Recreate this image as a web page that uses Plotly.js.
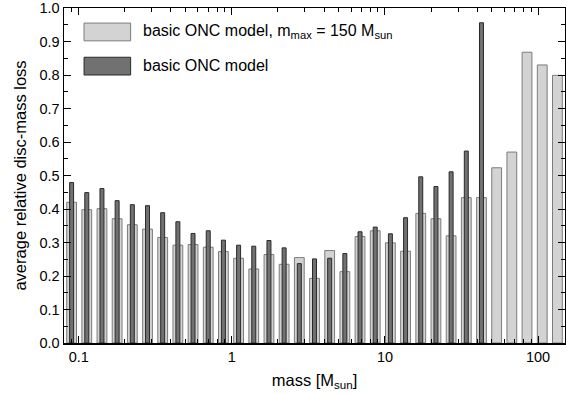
<!DOCTYPE html>
<html>
<head>
<meta charset="utf-8">
<script src="https://cdn.plot.ly/plotly-3.0.1.min.js"></script>
<style>
  body { margin: 0; padding: 0; background: #fff; }
  #chart { width: 566px; height: 394px; }
</style>
</head>
<body>
<div id="chart"></div>
<script>
// mass bin centres [M_sun] (log bins between 0.08 and 150)
var massBins = [0.0897, 0.1127, 0.1416, 0.1779, 0.2236, 0.2810, 0.3530, 0.4436, 0.5573, 0.7004,
                0.8800, 1.1058, 1.3895, 1.7460, 2.1938, 2.7566, 3.4638, 4.3523, 5.4688, 6.8717,
                8.6344, 10.849, 13.632, 17.129, 21.524, 27.045, 33.982, 42.70, 53.65, 67.42,
                84.71, 106.5, 133.8];

// basic ONC model, m_max = 150 M_sun
var lossMmax150 = [0.420, 0.398, 0.401, 0.371, 0.353, 0.340, 0.315, 0.292, 0.294, 0.286,
                   0.273, 0.253, 0.221, 0.264, 0.235, 0.255, 0.193, 0.276, 0.213, 0.318,
                   0.335, 0.299, 0.274, 0.387, 0.371, 0.320, 0.434, 0.434, 0.523, 0.570,
                   0.868, 0.830, 0.799];

// basic ONC model
var lossBasic = [0.479, 0.449, 0.461, 0.425, 0.413, 0.410, 0.389, 0.362, 0.327, 0.335,
                 0.307, 0.292, 0.289, 0.306, 0.284, 0.237, 0.251, 0.253, 0.267, 0.332,
                 0.346, 0.326, 0.374, 0.496, 0.467, 0.511, 0.573, 0.956];

var xTickVals = [0.1, 1, 10, 100];
var xTickText = ["0.1", "1", "10", "100"];
var yTickVals = [0, 0.1, 0.2, 0.3, 0.4, 0.5, 0.6, 0.7, 0.8, 0.9, 1.0];

var legendNames = ["basic ONC model, m<sub>max</sub> = 150 M<sub>sun</sub>", "basic ONC model"];

var lightFill = "#d3d3d3", lightLine = "#7c7c7c";
var darkFill = "#717171", darkLine = "#2a2a2a";

// bar widths given in decades, turned into linear width/offset for the log axis
function logBar(xs, dex) {
  var h = Math.pow(10, dex / 2);
  return {
    width: xs.map(function (c) { return c * (h - 1 / h); }),
    offset: xs.map(function (c) { return c * (1 / h - 1); })
  };
}
var lightGeom = logBar(massBins, 0.064);
var darkX = massBins.slice(0, lossBasic.length);
var darkGeom = logBar(darkX, 0.026);

// minor ticks 2..9 in every decade
var minorVals = [];
for (var e = -2; e <= 2; e++) {
  for (var k = 2; k <= 9; k++) minorVals.push(k * Math.pow(10, e));
}

var data = [
  {
    type: "bar", x: massBins, y: lossMmax150, name: legendNames[0],
    width: lightGeom.width, offset: lightGeom.offset,
    marker: {color: lightFill, line: {color: lightLine, width: 1}},
    hoverinfo: "x+y"
  },
  {
    type: "bar", x: darkX, y: lossBasic, name: legendNames[1],
    width: darkGeom.width, offset: darkGeom.offset,
    marker: {color: darkFill, line: {color: darkLine, width: 1}},
    hoverinfo: "x+y"
  }
];

var fontFam = "Liberation Sans, Arial, sans-serif";

var layout = {
  width: 566, height: 394,
  margin: {l: 64, r: 1, t: 8, b: 51},
  paper_bgcolor: "#fff", plot_bgcolor: "#fff",
  barmode: "overlay",
  showlegend: false,
  font: {family: fontFam, size: 14, color: "#000"},
  xaxis: {
    type: "log",
    range: [Math.log10(0.08), Math.log10(150)],
    tickmode: "array", tickvals: xTickVals, ticktext: xTickText,
    ticks: "inside", ticklen: 7, tickwidth: 1, tickcolor: "#000",
    minor: {tickmode: "array", tickvals: minorVals, ticks: "inside", ticklen: 4, tickwidth: 1, tickcolor: "#000", showgrid: false},
    showline: true, linecolor: "#000", linewidth: 1.5, mirror: "allticks",
    showgrid: false, zeroline: false,
    tickfont: {size: 14.5},
    title: {text: "mass [M<sub>sun</sub>]", font: {size: 16.5}, standoff: 10}
  },
  yaxis: {
    range: [0, 1],
    tickmode: "array", tickvals: yTickVals, tickformat: ".1f",
    ticks: "inside", ticklen: 7, tickwidth: 1, tickcolor: "#000",
    minor: {dtick: 0.05, tick0: 0.05, ticks: "inside", ticklen: 4, tickwidth: 1, tickcolor: "#000", showgrid: false},
    showline: true, linecolor: "#000", linewidth: 1.5, mirror: "allticks",
    showgrid: false, zeroline: false,
    tickfont: {size: 14.5},
    title: {text: "average relative disc-mass loss", font: {size: 16.5}, standoff: 8}
  },
  shapes: [
    {type: "rect", xref: "paper", yref: "paper", x0: 0.04, x1: 0.133, y0: 0.902, y1: 0.955,
     fillcolor: lightFill, line: {color: lightLine, width: 1}},
    {type: "rect", xref: "paper", yref: "paper", x0: 0.04, x1: 0.133, y0: 0.80, y1: 0.853,
     fillcolor: darkFill, line: {color: darkLine, width: 1}}
  ],
  annotations: [
    {xref: "paper", yref: "paper", x: 0.153, y: 0.93, xanchor: "left", yanchor: "middle",
     text: legendNames[0], showarrow: false, font: {size: 16}},
    {xref: "paper", yref: "paper", x: 0.153, y: 0.828, xanchor: "left", yanchor: "middle",
     text: legendNames[1], showarrow: false, font: {size: 16}}
  ]
};

Plotly.newPlot("chart", data, layout, {displayModeBar: false, staticPlot: true});
</script>
</body>
</html>
